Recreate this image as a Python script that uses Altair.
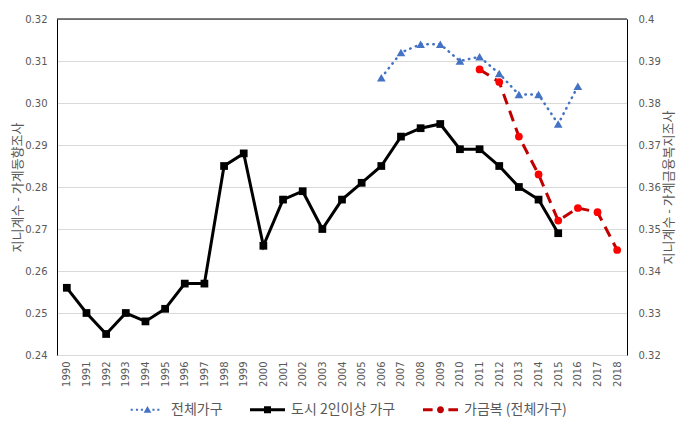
import altair as alt
import pandas as pd

years = [str(y) for y in range(1990, 2019)]

s_all_name = "전체가구"
s_city_name = "도시 2인이상 가구"
s_fin_name = "가금복 (전체가구)"

all_years = [str(y) for y in range(2006, 2017)]
all_vals = [0.306, 0.312, 0.314, 0.314, 0.310, 0.311, 0.307, 0.302, 0.302, 0.295, 0.304]

city_years = [str(y) for y in range(1990, 2016)]
city_vals = [0.256, 0.250, 0.245, 0.250, 0.248, 0.251, 0.257, 0.257, 0.285, 0.288,
             0.266, 0.277, 0.279, 0.270, 0.277, 0.281, 0.285, 0.292, 0.294, 0.295,
             0.289, 0.289, 0.285, 0.280, 0.277, 0.269]

fin_years = [str(y) for y in range(2011, 2019)]
fin_vals = [0.388, 0.385, 0.372, 0.363, 0.352, 0.355, 0.354, 0.345]

left_ticks = [0.24, 0.25, 0.26, 0.27, 0.28, 0.29, 0.30, 0.31, 0.32]
right_ticks = [0.32, 0.33, 0.34, 0.35, 0.36, 0.37, 0.38, 0.39, 0.40]

blue = "#4472C4"
black = "#000000"
red_line = "#C00000"
red_pt = "#FF0000"
grey_txt = "#595959"
grid = "#D9D9D9"

df = pd.concat([
    pd.DataFrame({"year": all_years, "value": all_vals, "series": s_all_name}),
    pd.DataFrame({"year": city_years, "value": city_vals, "series": s_city_name}),
    pd.DataFrame({"year": fin_years, "value": fin_vals, "series": s_fin_name}),
], ignore_index=True)

base = alt.Chart(df)

x_enc = alt.X("year:O", scale=alt.Scale(domain=years, padding=0.5),
              axis=alt.Axis(title=None, labelAngle=270, ticks=False, labelPadding=6,
                            labelFontSize=10, labelColor=grey_txt, labelFont="DejaVu Sans",
                            domainColor=grid, grid=False, labelAlign="right",
                            labelBaseline="middle"))

y_left = alt.Y("value:Q", scale=alt.Scale(domain=[0.24, 0.32], nice=False, zero=False),
               axis=alt.Axis(title="지니계수 - 가계동향조사", values=left_ticks, format=".2f",
                             ticks=False, labelPadding=10, labelFontSize=10, labelColor=grey_txt,
                             labelFont="DejaVu Sans", domainColor=black, gridColor=grid,
                             titleFont="Noto Sans CJK KR", titleFontSize=13, titleFontWeight="normal",
                             titleColor=grey_txt, titlePadding=0))

y_right = alt.Y("value:Q", scale=alt.Scale(domain=[0.32, 0.40], nice=False, zero=False),
                axis=alt.Axis(title="지니계수 - 가계금융복지조사", orient="right", values=right_ticks,
                              format=".2~f", ticks=False, labelPadding=11, labelFontSize=10,
                              labelColor=grey_txt, labelFont="DejaVu Sans", domainColor=black,
                              grid=False, titleFont="Noto Sans CJK KR", titleFontSize=13,
                              titleFontWeight="normal", titleColor=grey_txt, titlePadding=2,
                              titleAngle=270, titleBaseline="top"))

def sel(name):
    return alt.datum.series == name

blue_line = base.transform_filter(sel(s_all_name)).mark_line(
    color=blue, strokeWidth=2.5, strokeDash=[0.5, 5.5], strokeCap="round").encode(x=x_enc, y=y_left)
blue_pts = base.transform_filter(sel(s_all_name)).mark_point(
    shape="triangle-up", filled=True, color=blue, size=75, opacity=1).encode(x=x_enc, y=y_left)
black_line = base.transform_filter(sel(s_city_name)).mark_line(
    color=black, strokeWidth=3).encode(x=x_enc, y=y_left)
black_pts = base.transform_filter(sel(s_city_name)).mark_point(
    shape="square", filled=True, color=black, size=60, opacity=1).encode(x=x_enc, y=y_left)

top_rule = alt.Chart(pd.DataFrame({"v": [0.32]})).mark_rule(color=black, strokeWidth=1).encode(
    y=alt.Y("v:Q", scale=alt.Scale(domain=[0.24, 0.32], nice=False, zero=False)))

legend_names = [s_all_name, s_city_name, s_fin_name]
path_all = ("M-0.96,-0.06H-0.84V0.06H-0.96Z M-0.66,-0.06H-0.54V0.06H-0.66Z "
            "M-0.38,-0.06H-0.26V0.06H-0.38Z M-0.22,0.17L0,-0.22L0.22,0.17Z "
            "M0.28,-0.06H0.4V0.06H0.28Z M0.56,-0.06H0.68V0.06H0.56Z")
path_city = "M-1,-0.08H1V0.08H-1Z M-0.2,-0.2H0.2V0.2H-0.2Z"
path_fin = ("M-1,-0.08H-0.45V0.08H-1Z M-0.2,0 A0.2,0.2 0 1,1 0.2,0 A0.2,0.2 0 1,1 -0.2,0Z "
            "M0.45,-0.08H1V0.08H0.45Z")

legend_layer = base.transform_filter("false").mark_point(filled=True, size=1225, opacity=1).encode(
    color=alt.Color("series:N", scale=alt.Scale(domain=legend_names, range=[blue, black, red_line]),
                    legend=alt.Legend(title=None, orient="none", direction="horizontal",
                                      legendX=73, legendY=373, columns=3, columnPadding=27,
                                      labelOffset=6, labelFont="Noto Sans CJK KR", labelFontSize=14,
                                      labelColor=grey_txt, symbolStrokeWidth=0, labelLimit=300,
                                      symbolSize=1225, symbolOpacity=1)),
    shape=alt.Shape("series:N", scale=alt.Scale(domain=legend_names, range=[path_all, path_city, path_fin])),
)

left = alt.layer(black_line, black_pts, blue_line, blue_pts, top_rule, legend_layer)

red_l = base.transform_filter(sel(s_fin_name)).mark_line(
    color=red_line, strokeWidth=3, strokeDash=[11, 7]).encode(x=x_enc, y=y_right)
red_p = base.transform_filter(sel(s_fin_name)).mark_point(
    shape="circle", filled=True, color=red_pt, size=60, opacity=1).encode(x=x_enc, y=y_right)
right = alt.layer(red_l, red_p)

chart = alt.layer(left, right).resolve_scale(y="independent", color="independent", shape="independent").properties(
    width=570, height=336,
    autosize=alt.AutoSizeParams(type="none"),
    padding={"left": 49, "top": 11, "right": 52, "bottom": 66},
).configure_view(stroke=None).configure(background="white")

chart.save("out.html", embed_options={"renderer": "svg", "actions": False})
